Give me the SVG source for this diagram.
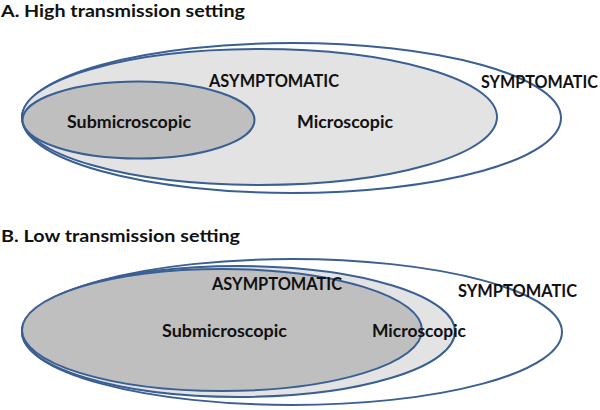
<svg xmlns="http://www.w3.org/2000/svg" width="600" height="410" viewBox="0 0 600 410">
<style>
.e{stroke:#3a5f93;stroke-width:2}
.sym{fill:#ffffff}
.asym{fill:#e3e3e3}
.sub{fill:#bfbfbf}
text{font-family:Lato,"Liberation Sans",Arial,sans-serif;font-weight:bold;font-size:16.5px;fill:#111}
.t{font-size:17px}
</style>
<rect width="600" height="410" fill="#fff"/>
<text class="t" x="1" y="17" textLength="244" lengthAdjust="spacingAndGlyphs">A. High transmission setting</text>
<g id="A-symptomatic"><ellipse class="e sym" cx="291.5" cy="118" rx="269.5" ry="75"/></g>
<g id="A-asymptomatic"><ellipse class="e asym" cx="259.5" cy="117" rx="237.5" ry="68"/></g>
<g id="A-submicroscopic"><ellipse class="e sub" cx="138.5" cy="120" rx="116" ry="38.5"/></g>
<text x="209" y="87" textLength="130" lengthAdjust="spacingAndGlyphs">ASYMPTOMATIC</text>
<text x="67" y="128" textLength="124" lengthAdjust="spacingAndGlyphs">Submicroscopic</text>
<text x="297" y="128" textLength="96" lengthAdjust="spacingAndGlyphs">Microscopic</text>
<text x="481" y="88" textLength="117" lengthAdjust="spacingAndGlyphs">SYMPTOMATIC</text>
<text class="t" x="1" y="242" textLength="239" lengthAdjust="spacingAndGlyphs">B. Low transmission setting</text>
<g id="B-symptomatic"><ellipse class="e sym" cx="292" cy="332" rx="270" ry="73"/></g>
<g id="B-asymptomatic"><ellipse class="e asym" cx="238.5" cy="331.5" rx="216.5" ry="65.5"/></g>
<g id="B-submicroscopic"><ellipse class="e sub" cx="222" cy="330" rx="200" ry="61"/></g>
<text x="212" y="290" textLength="130" lengthAdjust="spacingAndGlyphs">ASYMPTOMATIC</text>
<text x="162" y="337" textLength="125" lengthAdjust="spacingAndGlyphs">Submicroscopic</text>
<text x="372" y="337" textLength="94" lengthAdjust="spacingAndGlyphs">Microscopic</text>
<text x="458" y="297" textLength="119" lengthAdjust="spacingAndGlyphs">SYMPTOMATIC</text>
</svg>
